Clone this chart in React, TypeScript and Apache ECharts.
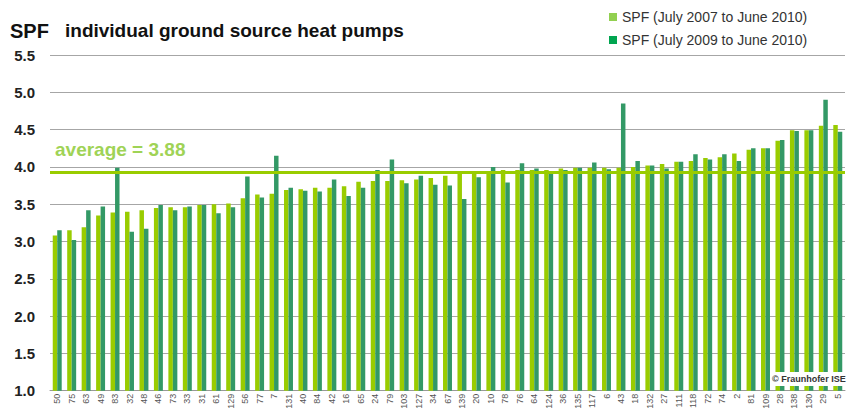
import React, { useEffect, useRef } from "react";
import * as echarts from "echarts";

const categories = ["50","75","63","49","83","32","48","46","73","33","31","61","129","56","77","7","131","40","84","42","16","65","24","79","103","127","34","67","139","20","10","78","76","64","124","36","135","117","6","43","18","132","27","111","118","72","74","2","81","109","28","138","130","29","5"];

const spf2007to2010 = [3.08,3.15,3.19,3.35,3.39,3.40,3.42,3.45,3.46,3.46,3.49,3.50,3.51,3.58,3.63,3.64,3.69,3.70,3.72,3.72,3.74,3.80,3.81,3.81,3.82,3.83,3.85,3.88,3.92,3.92,3.94,3.96,3.96,3.96,3.96,3.98,3.99,3.99,3.99,3.99,4.00,4.02,4.04,4.07,4.08,4.12,4.13,4.18,4.23,4.25,4.35,4.49,4.49,4.55,4.56];

const spf2009to2010 = [3.15,3.02,3.42,3.47,3.99,3.13,3.17,3.49,3.42,3.47,3.49,3.38,3.46,3.87,3.59,4.15,3.72,3.68,3.67,3.83,3.61,3.72,3.96,4.10,3.78,3.88,3.76,3.75,3.57,3.86,4.00,3.79,4.05,3.98,3.92,3.96,3.99,4.06,3.97,4.85,4.08,4.02,3.98,4.07,4.17,4.10,4.17,4.08,4.25,4.25,4.36,4.48,4.49,4.90,4.47];

const seriesNames = ["SPF (July 2007 to June 2010)", "SPF (July 2009 to June 2010)"];
const averageLineValue = 3.93;
const averageLabel = "average = 3.88";

export default function App() {
  const ref = useRef<HTMLDivElement>(null);
  useEffect(() => {
    document.body.style.margin = "0";
    const chart = echarts.init(ref.current!, null, { renderer: "svg" });
    const font = "Liberation Sans, Arial, sans-serif";
    chart.setOption({
      animation: false,
      backgroundColor: "#ffffff",
      textStyle: { fontFamily: font },
      grid: { left: 50, right: 3, top: 55, bottom: 21.3, containLabel: false },
      legend: {
        orient: "vertical",
        left: 604,
        top: 5,
        itemWidth: 8,
        itemHeight: 8,
        itemGap: 9,
        icon: "rect",
        textStyle: { fontSize: 14, color: "#333", fontFamily: font },
        data: [
          { name: seriesNames[0], itemStyle: { color: "#92d050" } },
          { name: seriesNames[1], itemStyle: { color: "#00a550" } },
        ],
      },
      xAxis: {
        type: "category",
        data: categories,
        axisLine: { lineStyle: { color: "#999", width: 1 } },
        axisTick: { show: false },
        axisLabel: { rotate: 90, interval: 0, fontSize: 9, color: "#555", margin: 3, fontFamily: font },
      },
      yAxis: {
        type: "value",
        min: 1,
        max: 5.5,
        interval: 0.5,
        axisLine: { show: false },
        axisTick: { show: false },
        splitLine: { lineStyle: { color: "#a6a6a6", width: 1 } },
        axisLabel: {
          formatter: (v: number) => v.toFixed(1),
          fontSize: 15,
          fontWeight: "bold",
          color: "#222",
          margin: 15,
          fontFamily: font,
        },
      },
      series: [
        {
          name: seriesNames[0],
          type: "bar",
          data: spf2007to2010,
          itemStyle: { color: "#99cc00" },
          barGap: "0%",
          barCategoryGap: "38%",
          markLine: {
            silent: true,
            symbol: "none",
            label: { show: false },
            lineStyle: { color: "#99cc00", width: 3, type: "solid" },
            data: [{ yAxis: averageLineValue }],
          },
        },
        {
          name: seriesNames[1],
          type: "bar",
          data: spf2009to2010,
          itemStyle: { color: "#339966" },
          barGap: "0%",
          barCategoryGap: "38%",
        },
      ],
      graphic: [
        {
          type: "text",
          left: 10,
          top: 21,
          style: { text: "SPF", font: `bold 20px ${font}`, fill: "#111" },
        },
        {
          type: "text",
          left: 65,
          top: 21,
          style: { text: "individual ground source heat pumps", font: `bold 19px ${font}`, fill: "#111" },
        },
        {
          type: "text",
          left: 55,
          top: 140,
          style: { text: averageLabel, font: `bold 19px ${font}`, fill: "#9fd356" },
        },
        {
          type: "rect",
          shape: { x: 770, y: 372, width: 78, height: 14 },
          style: { fill: "#ffffff" },
          z: 100,
        },
        {
          type: "text",
          left: 772,
          top: 374,
          z: 101,
          style: { text: "© Fraunhofer ISE", font: `bold 9px ${font}`, fill: "#333" },
        },
      ],
    });
    return () => chart.dispose();
  }, []);
  return <div ref={ref} style={{ width: 848, height: 412 }} />;
}
